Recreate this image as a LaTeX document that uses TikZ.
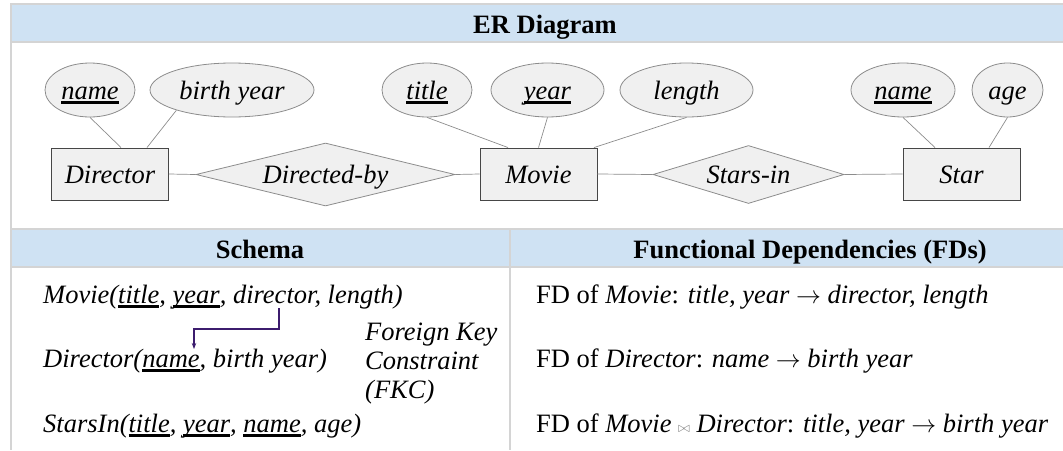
\documentclass[tikz,border=0pt]{standalone}
\usepackage{fontspec}
\setmainfont{Liberation Serif}
\usetikzlibrary{shapes.geometric,arrows.meta}
\definecolor{hdrblue}{RGB}{207,226,243}
\definecolor{gridgray}{RGB}{212,212,212}
\definecolor{shapefill}{RGB}{240,240,240}
\definecolor{shapeline}{RGB}{140,140,140}
\definecolor{boxline}{RGB}{70,70,70}
\definecolor{fkpurple}{RGB}{60,28,110}
\newcommand{\keyattr}[1]{\setbox0\hbox{#1}\rlap{\rule[-4.6pt]{\wd0}{2.3pt}}\box0}
\newcommand{\txtsize}{\fontsize{26.5}{32}\selectfont}
\begin{document}
\begin{tikzpicture}[x=1pt,y=-1pt,
  font=\txtsize,
  attr/.style={ellipse, draw=shapeline, fill=shapefill, line width=0.8pt,
    minimum height=54, inner sep=0pt, text height=18, text depth=0,
    font=\txtsize\itshape},
  entity/.style={rectangle, draw=boxline, fill=shapefill, line width=0.9pt,
    minimum width=117, minimum height=52, inner sep=0pt, text height=18,
    text depth=0, font=\txtsize\itshape},
  rel/.style={diamond, draw=shapeline, fill=shapefill, line width=0.8pt,
    aspect=4, inner sep=0pt, text height=18, text depth=0,
    font=\txtsize\itshape},
  link/.style={draw=shapeline, line width=0.7pt},
  grid/.style={draw=gridgray, line width=1.8pt},
  hdr/.style={anchor=base, font=\txtsize\bfseries},
  row/.style={anchor=base west, inner sep=0pt},
  fkarrow/.style={draw=fkpurple, line width=1.1pt,
    -{Stealth[length=6pt,width=4.5pt]}}
]
\useasboundingbox (0,0) rectangle (1063,450);
% table backgrounds
\fill[hdrblue] (11,4) rectangle (1063,42);
\fill[hdrblue] (11,229) rectangle (1063,267);
\draw[grid] (1063,4) -- (11,4) -- (11,450);
\draw[grid] (11,42) -- (1063,42);
\draw[grid] (11,229) -- (1063,229);
\draw[grid] (11,267) -- (1063,267);
\draw[grid] (510,229) -- (510,450);
% headers
\node[hdr] (erhead) at (545,33) {ER Diagram};
\node[hdr] (schemahead) at (260,258) {Schema};
\node[hdr] (fdhead) at (810,258) {Functional Dependencies (FDs)};
% ER diagram nodes
\node[attr, minimum width=90] (dname) at (90,90) {\keyattr{name}};
\node[attr, minimum width=164] (dbirth) at (232,90) {birth year};
\node[attr, minimum width=90] (mtitle) at (427,90) {\keyattr{title}};
\node[attr, minimum width=113] (myear) at (547.5,90) {\keyattr{year}};
\node[attr, minimum width=133] (mlength) at (686.5,90) {length};
\node[attr, minimum width=104] (sname) at (903,90) {\keyattr{name}};
\node[attr, minimum width=71] (sage) at (1007.5,90) {age};
\node[entity] (director) at (110,174) {Director};
\node[entity] (movie) at (538.5,174) {Movie};
\node[entity] (star) at (961.5,174) {Star};
\node[rel, minimum width=259, minimum height=63] (directed) at (325.5,174.5) {Directed-by};
\node[rel, minimum width=191, minimum height=58] (starsin) at (748.5,174.5) {Stars-in};
% ER connectors
\draw[link] (dname.south) -- ([xshift=11]director.north);
\draw[link] (dbirth.200) -- ([xshift=37]director.north);
\draw[link] (mtitle.south) -- ([xshift=-30.5]movie.north);
\draw[link] (myear.south) -- (movie.north);
\draw[link] (mlength.south) -- ([xshift=55.5]movie.north);
\draw[link] (sname.south) -- ([xshift=-26.5]star.north);
\draw[link] (sage.south) -- ([xshift=27.5]star.north);
\draw[link] (director.east) -- (directed.west);
\draw[link] (directed.east) -- (movie.west);
\draw[link] (movie.east) -- (starsin.west);
\draw[link] (starsin.east) -- (star.west);
% schema
\node[row] (s1) at (43,303) {\itshape Movie(\keyattr{title}, \keyattr{year}, director, length)};
\node[row] (s2) at (43,367) {\itshape Director(\keyattr{name}, birth year)};
\node[row] (s3) at (43,432) {\itshape StarsIn(\keyattr{title}, \keyattr{year}, \keyattr{name}, age)};
\node[row] (fk1) at (365,340) {\itshape Foreign Key};
\node[row] (fk2) at (365,369) {\itshape Constraint};
\node[row] (fk3) at (365,398) {\itshape (FKC)};
\coordinate (fkfrom) at (279,308);
\coordinate (fkto) at (194,349);
\draw[fkarrow] (fkfrom) -- ++(0,21) -| (fkto);
% functional dependencies
\node[row] (fd1) at (536,303) {FD of \textit{Movie}: \textit{title, year} $\rightarrow$ \textit{director, length}};
\node[row] (fd2) at (536,367) {FD of \textit{Director}: \textit{name} $\rightarrow$ \textit{birth year}};
\node[row] (fd3) at (536,432) {FD of \textit{Movie} {\color{gray}\fontsize{14}{14}\selectfont$\bowtie$} \textit{Director}: \textit{title, year} $\rightarrow$ \textit{birth year}};
\end{tikzpicture}
\end{document}
